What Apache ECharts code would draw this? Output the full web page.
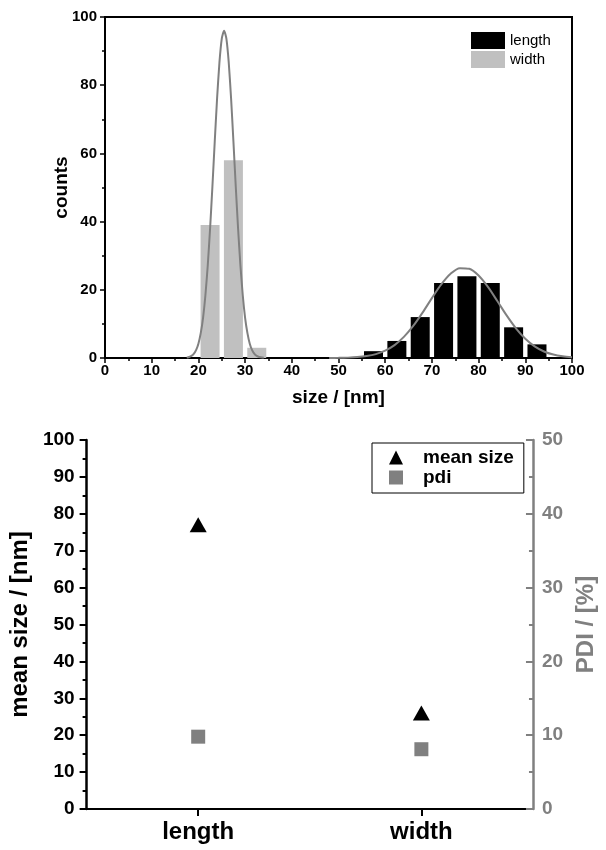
<!DOCTYPE html>
<html>
<head>
<meta charset="utf-8">
<script src="https://cdn.jsdelivr.net/npm/echarts@6/dist/echarts.min.js"></script>
<style>
  html, body { margin: 0; padding: 0; background: #fff; }
  #chart { width: 606px; height: 850px; }
</style>
</head>
<body>
<div id="chart"></div>
<script>
// Histogram: bin centres (nm) and counts
const widthBinCenters = [22.5, 27.5, 32.5];
const widthCounts = [39, 58, 3];
const lengthBinCenters = [57.5, 62.5, 67.5, 72.5, 77.5, 82.5, 87.5, 92.5];
const lengthCounts = [2, 5, 12, 22, 24, 22, 9, 4];

// Fitted distribution curves, sampled points (size, counts)
const widthFitX = [17.5, 18, 18.5, 19, 19.5, 20, 20.5, 21, 21.5, 22, 22.5, 23, 23.5, 24, 24.5, 25, 25.5,
                   26, 26.5, 27, 27.5, 28, 28.5, 29, 29.5, 30, 30.5, 31, 31.5, 32, 32.5, 33, 34];
const widthFitY = [0.1, 0.3, 0.6, 1.2, 2.3, 4.2, 7.3, 11.8, 18.4, 27.1, 37.9, 50.3, 63.5, 76.1, 86.6, 93.6, 96,
                   93.6, 86.6, 76.1, 63.5, 50.3, 37.9, 27.1, 18.4, 11.8, 7.3, 4.2, 2.3, 1.2, 0.6, 0.3, 0.05];
const lengthFitX = [48, 50, 52, 54, 56, 58, 60, 62, 64, 66, 68, 70, 72, 74, 76, 78,
                    80, 82, 84, 86, 88, 90, 92, 94, 96, 98, 100];
const lengthFitY = [0.02, 0.04, 0.11, 0.26, 0.57, 1.14, 2.16, 3.78, 6.18, 9.4, 13.31, 17.57, 21.59, 24.72, 26.35, 26.16,
                    24.19, 20.84, 16.72, 12.49, 8.69, 5.63, 3.4, 1.91, 1.0, 0.49, 0.22];

// Summary: mean size (nm) and polydispersity (%)
const categories = ['length', 'width'];
const meanSize = [77, 26];
const pdi = [9.8, 8.1];

const FONT = "'Liberation Sans', Arial, sans-serif";
const GRAY = '#808080';

const pairs = (xs, ys) => xs.map((x, i) => [x, ys[i]]);

const chart = echarts.init(document.getElementById('chart'), null, { renderer: 'canvas' });

const boldText = (size, color) => ({ fontFamily: FONT, fontWeight: 'bold', fontSize: size, color: color || '#000' });

chart.setOption({
  animation: false,
  backgroundColor: '#fff',
  grid: [
    { left: 105, right: 34, top: 17, bottom: 492, show: true, borderColor: '#000', borderWidth: 2, backgroundColor: 'transparent' },
    { left: 83, right: 63, top: 440, bottom: 41, show: false }
  ],
  legend: [
    {
      data: [{ name: 'length', icon: 'rect' }, { name: 'width', icon: 'rect' }],
      orient: 'vertical', left: 471, top: 32, padding: 0,
      itemWidth: 34, itemHeight: 17, itemGap: 2,
      selectedMode: false,
      textStyle: { fontFamily: FONT, fontSize: 15, color: '#000', lineHeight: 17 }
    },
    {
      data: [{ name: 'mean size', icon: 'triangle' }, { name: 'pdi', icon: 'rect' }],
      orient: 'vertical', left: 372, top: 443, padding: [5, 10, 6, 17],
      itemWidth: 14, itemHeight: 14, itemGap: 1,
      borderColor: '#000', borderWidth: 1, backgroundColor: '#fff',
      selectedMode: false,
      itemStyle: { opacity: 1 },
      textStyle: Object.assign(boldText(19), { lineHeight: 19, padding: [0, 0, 0, 15] })
    }
  ],
  xAxis: [
    {
      type: 'value', gridIndex: 0, min: 0, max: 100, interval: 10,
      name: 'size / [nm]', nameLocation: 'middle', nameGap: 30,
      nameTextStyle: boldText(19),
      axisLine: { show: true, lineStyle: { color: '#000', width: 2 } },
      axisTick: { show: true, length: 5, lineStyle: { color: '#000', width: 1.5 } },
      minorTick: { show: true, splitNumber: 2, length: 3, lineStyle: { color: '#000', width: 1.5 } },
      axisLabel: Object.assign(boldText(15), { margin: 5 }),
      splitLine: { show: false }
    },
    {
      type: 'category', gridIndex: 1, data: categories, boundaryGap: true,
      axisLine: { show: true, lineStyle: { color: '#000', width: 2 } },
      axisTick: { show: true, alignWithLabel: true, length: 7, lineStyle: { color: '#000', width: 2 } },
      axisLabel: Object.assign(boldText(24), { margin: 11 }),
      splitLine: { show: false }
    },
    {
      type: 'category', gridIndex: 1, data: categories, position: 'top',
      axisLine: { show: true, lineStyle: { color: '#000', width: 2 } },
      axisTick: { show: false }, axisLabel: { show: false }, splitLine: { show: false }
    }
  ],
  yAxis: [
    {
      type: 'value', gridIndex: 0, min: 0, max: 100, interval: 20,
      name: 'counts', nameLocation: 'middle', nameGap: 34, nameMoveOverlap: false,
      nameTextStyle: boldText(19),
      axisLine: { show: true, lineStyle: { color: '#000', width: 2 } },
      axisTick: { show: true, length: 5, lineStyle: { color: '#000', width: 1.5 } },
      minorTick: { show: true, splitNumber: 2, length: 3, lineStyle: { color: '#000', width: 1.5 } },
      axisLabel: Object.assign(boldText(15), { margin: 8 }),
      splitLine: { show: false }
    },
    {
      type: 'value', gridIndex: 1, min: 0, max: 100, interval: 10, position: 'left',
      name: 'mean size / [nm]', nameLocation: 'middle', nameGap: 46,
      nameTextStyle: boldText(24),
      axisLine: { show: true, lineStyle: { color: '#000', width: 2.5 } },
      axisTick: { show: true, length: 7, lineStyle: { color: '#000', width: 2 } },
      minorTick: { show: true, splitNumber: 2, length: 4, lineStyle: { color: '#000', width: 2 } },
      axisLabel: Object.assign(boldText(19), { margin: 12 }),
      splitLine: { show: false }
    },
    {
      type: 'value', gridIndex: 1, min: 0, max: 50, interval: 10, position: 'right', z: 3,
      name: 'PDI / [%]', nameLocation: 'middle', nameGap: 33,
      nameTextStyle: boldText(24, GRAY),
      axisLine: { show: true, lineStyle: { color: GRAY, width: 2.5 } },
      axisTick: { show: true, inside: true, length: 7, lineStyle: { color: GRAY, width: 2 } },
      minorTick: { show: true, splitNumber: 2, length: 4, lineStyle: { color: GRAY, width: 2 } },
      axisLabel: Object.assign(boldText(19, GRAY), { margin: 9 }),
      splitLine: { show: false }
    }
  ],
  series: [
    {
      name: 'length', type: 'bar', xAxisIndex: 0, yAxisIndex: 0,
      data: pairs(lengthBinCenters, lengthCounts),
      barWidth: 19, barGap: '-100%',
      itemStyle: { color: '#000' }
    },
    {
      name: 'width', type: 'bar', xAxisIndex: 0, yAxisIndex: 0,
      data: pairs(widthBinCenters, widthCounts),
      barWidth: 19, barGap: '-100%',
      itemStyle: { color: '#c0c0c0' }
    },
    {
      name: 'width fit', type: 'line', xAxisIndex: 0, yAxisIndex: 0,
      data: pairs(widthFitX, widthFitY), showSymbol: false, smooth: 0.2, z: 4,
      lineStyle: { color: GRAY, width: 2 }, itemStyle: { color: GRAY }
    },
    {
      name: 'length fit', type: 'line', xAxisIndex: 0, yAxisIndex: 0,
      data: pairs(lengthFitX, lengthFitY), showSymbol: false, smooth: 0.3, z: 4,
      lineStyle: { color: GRAY, width: 2 }, itemStyle: { color: GRAY }
    },
    {
      name: 'mean size', type: 'scatter', xAxisIndex: 1, yAxisIndex: 1,
      data: meanSize, symbol: 'triangle', symbolSize: [17, 15],
      itemStyle: { color: '#000', opacity: 1 }
    },
    {
      name: 'pdi', type: 'scatter', xAxisIndex: 1, yAxisIndex: 2,
      data: pdi, symbol: 'rect', symbolSize: 14,
      itemStyle: { color: GRAY, opacity: 1 }
    }
  ]
});
</script>
</body>
</html>
